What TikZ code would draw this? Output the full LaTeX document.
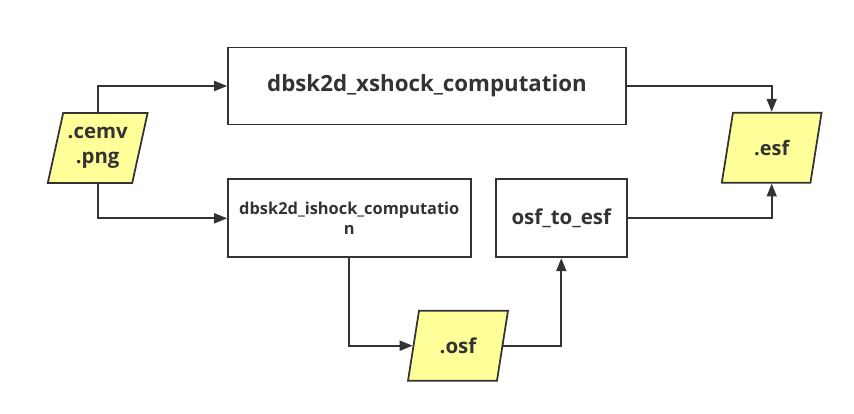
\documentclass[tikz,border=0pt]{standalone}
\usepackage{fontspec}
\setmainfont{Open Sans}
\usepackage{tikz}
\usetikzlibrary{arrows.meta,positioning,shapes.geometric}
\definecolor{ink}{RGB}{51,51,51}
\definecolor{pale}{RGB}{255,255,153}

\begin{document}
\begin{tikzpicture}[x=0.03cm,y=-0.03cm,>={Triangle[length=11pt,width=8.5pt]},
  proc/.style={draw=ink,line width=1.5pt,text=ink,font=\bfseries,align=center,inner sep=0pt},
  file/.style={trapezium,trapezium left angle=72,trapezium right angle=108,trapezium stretches=true,
    draw=ink,fill=pale,line width=1.5pt,text=ink,align=center,inner sep=0pt,minimum width=3cm,minimum height=2.1cm},
  flow/.style={->,draw=ink,line width=1.5pt}]
  \useasboundingbox (0,0) rectangle (854,413);
  % processes
  \node[proc,minimum width=11.94cm,minimum height=2.31cm,font=\bfseries\fontsize{19}{22}\selectfont] (xshock) at (427,86) {dbsk2d\_xshock\_computation};
  \node[proc,minimum width=7.28cm,minimum height=2.34cm,font=\bfseries\fontsize{14}{17}\selectfont] (ishock) at (349.3,218.3) {dbsk2d\_ishock\_computatio\\n};
  \node[proc,minimum width=3.92cm,minimum height=2.34cm,font=\bfseries\fontsize{17.5}{20}\selectfont] (conv) at (561.3,218.3) {osf\_to\_esf};
  % files
  \node[file,font=\bfseries\fontsize{17.4}{21.3}\selectfont] (cemv) at (97.7,148) {.cemv\\.png};
  \node[file,font=\bfseries\fontsize{17}{20}\selectfont] (esf) at (771.7,147.7) {.esf};
  \node[file,font=\bfseries\fontsize{17.5}{20}\selectfont] (osf) at (458,345.7) {.osf};
  % connectors
  \draw[flow] (cemv.north) |- (xshock.west);
  \draw[flow] (cemv.south) |- (ishock.west);
  \draw[flow] (ishock.south) |- (osf.west);
  \draw[flow] (osf.east) -| (conv.south);
  \draw[flow] (xshock.east) -| (esf.north);
  \draw[flow] (conv.east) -| (esf.south);
\end{tikzpicture}
\end{document}
